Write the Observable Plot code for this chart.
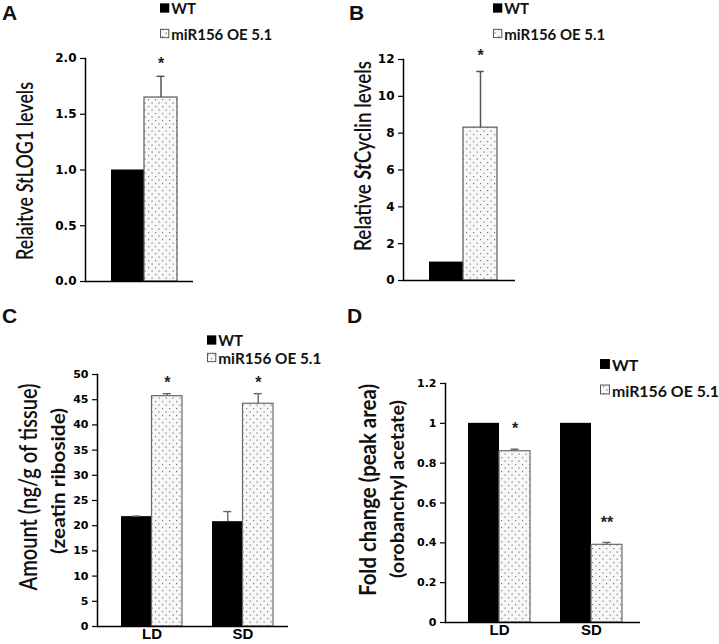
<!DOCTYPE html>
<html>
<head>
<meta charset="utf-8">
<script src="https://cdn.jsdelivr.net/npm/d3@7"></script>
<script src="https://cdn.jsdelivr.net/npm/@observablehq/plot@0.6"></script>
<style>
  html, body { margin: 0; padding: 0; background: #fff; }
  #fig { position: relative; width: 719px; height: 644px; overflow: hidden; background: #fff; }
  #fig svg { position: absolute; }
</style>
</head>
<body>
<svg width="0" height="0" style="position:absolute">
  <defs>
    <pattern id="dots" width="7" height="7" patternUnits="userSpaceOnUse">
      <rect width="7" height="7" fill="#f7f7f7"></rect>
      <rect x="1" y="1" width="1.2" height="1.2" fill="#7a7a7a"></rect>
      <rect x="4.5" y="4.5" width="1.2" height="1.2" fill="#7a7a7a"></rect>
    </pattern>
  </defs>
</svg>
<div id="fig"></div>
<script>
// ---------------- data ----------------
const seriesNames = ["WT", "miR156 OE 5.1"];
const legendA = ["WT", "miR156 OE  5.1"];
const legendC = ["WT", "miR156 OE 5.1"];

// Panel A: relative StLOG1 levels
const aValues = [1.0, 1.65];
const aErrors = [0, 0.19];
const aStars = ["", "*"];
const aTicks = [0, 0.5, 1.0, 1.5, 2.0];

// Panel B: relative StCyclin levels
const bValues = [1.0, 8.3];
const bErrors = [0, 3.05];
const bStars = ["", "*"];
const bTicks = [0, 2, 4, 6, 8, 10, 12];

// Panel C: zeatin riboside (ng/g of tissue)
const groups = ["LD", "SD"];
const cWT = [21.8, 20.8];
const cWTErr = [0.1, 2.0];
const cOE = [45.7, 44.2];
const cOEErr = [0.5, 2.0];
const cStars = ["*", "*"];
const cTicks = [0, 5, 10, 15, 20, 25, 30, 35, 40, 45, 50];

// Panel D: orobanchyl acetate fold change
const dWT = [1, 1];
const dWTErr = [0, 0];
const dOE = [0.86, 0.39];
const dOEErr = [0.01, 0.012];
const dStars = ["*", "**"];
const dTicks = [0, 0.2, 0.4, 0.6, 0.8, 1, 1.2];

// ---------------- helpers ----------------
const fig = document.getElementById("fig");
function place(svg, left, top) {
  svg.style.left = left + "px";
  svg.style.top = top + "px";
  fig.appendChild(svg);
}
const tickFont = {fontFamily: "DejaVu Sans", fontWeight: "bold"};
const starFont = {fontSize: 16, fontFamily: "Liberation Sans", fontWeight: "bold", fill: "#222"};

function singlePanel(o) {
  const rows = seriesNames.map((s, i) => ({series: s, value: o.values[i], err: o.errors[i], star: o.stars[i]}));
  const band = (o.width - o.ml - o.mr - o.insL - o.insR) / 2;
  const withErr = rows.filter(d => d.err > 0);
  return Plot.plot({
    width: o.width, height: o.height,
    marginLeft: o.ml, marginRight: o.mr, marginTop: o.mt, marginBottom: o.mb,
    style: {background: "transparent", color: "black", overflow: "visible"},
    x: {type: "band", domain: seriesNames, padding: 0, insetLeft: o.insL, insetRight: o.insR, axis: null},
    y: {domain: o.domain, axis: null},
    marks: [
      Plot.barY(rows.filter(d => d.series === seriesNames[0]), {x: "series", y: "value", fill: "black"}),
      Plot.barY(rows.filter(d => d.series === seriesNames[1]), {x: "series", y: "value", fill: "url(#dots)", stroke: "#5a5a5a", strokeWidth: 1.2}),
      Plot.ruleX(withErr, {x: "series", y1: "value", y2: d => d.value + d.err, stroke: "#555", strokeWidth: 1.5}),
      Plot.tickY(withErr, {x: "series", y: d => d.value + d.err, stroke: "#555", strokeWidth: 1.5, insetLeft: band / 2 - 4, insetRight: band / 2 - 4}),
      Plot.text(rows.filter(d => d.star), {x: "series", y: d => d.value + d.err, text: "star", dy: o.starDy, ...starFont}),
      Plot.ruleY([0], {stroke: "black", strokeWidth: 1.5}),
      Plot.frame({anchor: "left", stroke: "black", strokeWidth: 1.5}),
      Plot.axisY({ticks: o.ticks, tickFormat: o.fmt, tickSize: 5, tickPadding: 4, fontSize: o.fontSize, strokeWidth: 1.2, label: null, ...tickFont})
    ]
  });
}

function groupPanel(o) {
  const band = (o.width - o.ml - o.mr - o.insL - o.insR) / groups.length;
  const off = (band / 2 - o.pad) / 2;
  const wtRows = groups.map((g, i) => ({group: g, value: o.wt[i], err: o.wtErr[i]}));
  const oeRows = groups.map((g, i) => ({group: g, value: o.oe[i], err: o.oeErr[i], star: o.stars[i]}));
  const cap = 4;
  return Plot.plot({
    width: o.width, height: o.height,
    marginLeft: o.ml, marginRight: o.mr, marginTop: o.mt, marginBottom: o.mb,
    style: {background: "transparent", color: "black", overflow: "visible"},
    x: {type: "band", domain: groups, padding: 0, insetLeft: o.insL, insetRight: o.insR},
    y: {domain: o.domain, axis: null},
    marks: [
      Plot.barY(wtRows, {x: "group", y: "value", fill: "black", insetLeft: o.pad, insetRight: band / 2}),
      Plot.barY(oeRows, {x: "group", y: "value", fill: "url(#dots)", stroke: "#6a6a6a", strokeWidth: 1.2, insetLeft: band / 2, insetRight: o.pad}),
      Plot.ruleX(wtRows.filter(d => d.err > 0), {x: "group", y1: "value", y2: d => d.value + d.err, dx: -off, stroke: "#666", strokeWidth: 1.4}),
      Plot.tickY(wtRows.filter(d => d.err > 0), {x: "group", y: d => d.value + d.err, stroke: "#666", strokeWidth: 1.4, insetLeft: band / 2 - off - cap, insetRight: band / 2 + off - cap}),
      Plot.ruleX(oeRows.filter(d => d.err > 0), {x: "group", y1: "value", y2: d => d.value + d.err, dx: off, stroke: "#666", strokeWidth: 1.4}),
      Plot.tickY(oeRows.filter(d => d.err > 0), {x: "group", y: d => d.value + d.err, stroke: "#666", strokeWidth: 1.4, insetLeft: band / 2 + off - cap, insetRight: band / 2 - off - cap}),
      Plot.text(oeRows.filter(d => d.star), {x: "group", y: d => d.value + d.err, text: "star", dx: off, dy: o.starDy, ...starFont}),
      Plot.ruleY([0], {stroke: "black", strokeWidth: 1.5}),
      Plot.frame({anchor: "left", stroke: "black", strokeWidth: 1.5}),
      Plot.axisY({ticks: o.ticks, tickFormat: o.fmt, tickSize: 5, tickPadding: 4, fontSize: o.fontSize, strokeWidth: 1.2, label: null, ...tickFont}),
      Plot.axisX({tickSize: 0, tickPadding: 2, fontSize: 15, fontWeight: "bold", fontFamily: "Liberation Sans", label: null})
    ]
  });
}

// ---------------- panels ----------------
place(singlePanel({
  values: aValues, errors: aErrors, stars: aStars, domain: [0, 2], ticks: aTicks, fmt: d3.format(".1f"),
  width: 200, height: 300, ml: 85, mr: 7, mt: 58, mb: 19, insL: 26, insR: 16, starDy: -12, fontSize: 12
}), 0, 0);

place(singlePanel({
  values: bValues, errors: bErrors, stars: bStars, domain: [0, 12], ticks: bTicks, fmt: d3.format("d"),
  width: 180, height: 300, ml: 43, mr: 25, mt: 59, mb: 20, insL: 25, insR: 18, starDy: -16, fontSize: 12
}), 360, 0);

place(groupPanel({
  wt: cWT, wtErr: cWTErr, oe: cOE, oeErr: cOEErr, stars: cStars, domain: [0, 50], ticks: cTicks, fmt: d3.format("d"),
  width: 300, height: 314, ml: 97, mr: 12, mt: 44, mb: 18, insL: 9, insR: 0, pad: 15, starDy: -11, fontSize: 11
}), 0, 330);

place(groupPanel({
  wt: dWT, wtErr: dWTErr, oe: dOE, oeErr: dOEErr, stars: dStars, domain: [0, 1.2], ticks: dTicks, fmt: d => String(d),
  width: 359, height: 314, ml: 85, mr: 79, mt: 53, mb: 22, insL: 8, insR: 3, pad: 15, starDy: -20, fontSize: 11
}), 360, 330);

// ---------------- overlay text: panel letters, axis titles, legends ----------------
const NS = "http://www.w3.org/2000/svg";
const ov = document.createElementNS(NS, "svg");
ov.setAttribute("width", 719);
ov.setAttribute("height", 644);
ov.style.left = "0px"; ov.style.top = "0px";
fig.appendChild(ov);

function txt(parent, x, y, parts, attrs) {
  const t = document.createElementNS(NS, "text");
  t.setAttribute("x", x); t.setAttribute("y", y);
  for (const k in attrs) t.setAttribute(k, attrs[k]);
  for (const p of parts) {
    const s = document.createElementNS(NS, "tspan");
    s.textContent = typeof p === "string" ? p : p.t;
    if (typeof p !== "string") for (const k in p) if (k !== "t") s.setAttribute(k, p[k]);
    t.appendChild(s);
  }
  parent.appendChild(t);
  return t;
}
function vtitle(cx, cy, parts, attrs) {
  const g = document.createElementNS(NS, "g");
  g.setAttribute("transform", `translate(${cx},${cy}) rotate(-90)`);
  ov.appendChild(g);
  txt(g, 0, 0, parts, Object.assign({"text-anchor": "middle", "dominant-baseline": "central", fill: "#111", lengthAdjust: "spacingAndGlyphs"}, attrs));
}
function rect(x, y, w, h, fill, stroke) {
  const r = document.createElementNS(NS, "rect");
  r.setAttribute("x", x); r.setAttribute("y", y); r.setAttribute("width", w); r.setAttribute("height", h);
  r.setAttribute("fill", fill);
  if (stroke) { r.setAttribute("stroke", stroke); r.setAttribute("stroke-width", 1); }
  ov.appendChild(r);
}
function legend(x, y1, y2, labels, size, len2) {
  const s = size * 0.62;
  rect(x, y1 - s / 2, s, s, "black");
  rect(x + 0.5, y2 - s / 2, s - 1, s - 1, "url(#dots)", "#555");
  const lattr = {"font-family": "Lato, sans-serif", "font-weight": "bold", "font-size": size, "dominant-baseline": "central", fill: "#111"};
  txt(ov, x + s + 2, y1, [labels[0]], lattr);
  txt(ov, x + s + 2, y2, [labels[1]], Object.assign({textLength: len2, lengthAdjust: "spacingAndGlyphs"}, lattr));
}

// panel letters
const letterAttr = {"font-family": "Liberation Sans, Arial, sans-serif", "font-weight": "bold", "font-size": 21, fill: "#111"};
txt(ov, 2, 20, ["A"], letterAttr);
txt(ov, 349, 20, ["B"], letterAttr);
txt(ov, 2, 323, ["C"], letterAttr);
txt(ov, 347, 323, ["D"], letterAttr);

// legends
legend(160, 8, 34, legendA, 15, 101);
legend(493, 8, 34, legendA, 15, 101);
legend(207, 340, 358, legendC, 15, 103);
legend(600, 364, 390, legendC, 16, 107);

// y-axis titles
const tAttr = {"font-family": "Lato, sans-serif", "font-size": 22, "font-weight": "600"};
vtitle(24, 171, ["Relaitve ", {t: "St", "font-style": "italic"}, "LOG1 levels"], Object.assign({textLength: 178}, tAttr));
vtitle(362, 156, ["Relative ", {t: "St", "font-style": "italic", "font-weight": "bold"}, "Cyclin levels"], Object.assign({textLength: 190}, tAttr));
vtitle(27, 487, ["Amount (ng/g of tissue)"], {"font-family": "Lato, sans-serif", "font-size": 24, "font-weight": "600", textLength: 207});
vtitle(57, 481, ["(zeatin riboside)"], {"font-family": "Lato, sans-serif", "font-size": 19, "font-weight": "bold", textLength: 146});
vtitle(367, 490, ["Fold change (peak area)"], {"font-family": "Lato, sans-serif", "font-size": 23, "font-weight": "bold", textLength: 212});
vtitle(396, 489, ["(orobanchyl acetate)"], {"font-family": "Lato, sans-serif", "font-size": 19, "font-weight": "bold", textLength: 178});
</script>
</body>
</html>
